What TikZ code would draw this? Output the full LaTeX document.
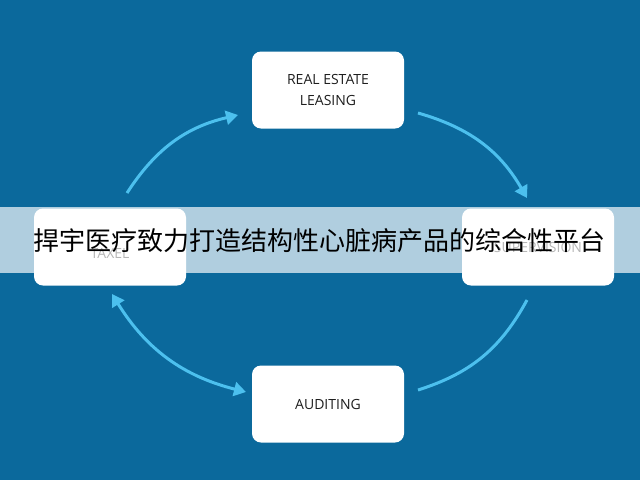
\documentclass[tikz,border=0pt]{standalone}
\usepackage{fontspec}
\setmainfont{Open Sans}
\newfontfamily\cjk{Noto Sans CJK SC}
\usetikzlibrary{arrows.meta}
\definecolor{bg}{HTML}{0B699C}
\definecolor{arr}{HTML}{4CC0EE}
\definecolor{txt}{HTML}{1E1E1E}
\begin{document}
\begin{tikzpicture}[x=1pt,y=-1pt,
  box/.style={fill=white,rounded corners=9pt,minimum width=152pt,minimum height=77pt,align=center,font=\fontsize{14}{21}\selectfont,text=txt},
  cyc/.style={draw=arr,line width=3pt,-{Triangle[length=12pt,width=14pt]}}]
\fill[bg] (0,0) rectangle (640,480);
\useasboundingbox (0,0) rectangle (640,480);
\node[box] (re) at (328,90) {REAL ESTATE\\LEASING};
\node[box] (au) at (328,404) {AUDITING};
\node[box] (tx) at (110,247) {\\[2pt]TAXEL};
\node[box] (su) at (538,247) {SUPERVISION};
\coordinate (a1) at (127,193); \coordinate (a2) at (238,115);
\draw[cyc] (a1) to[bend left=22] (a2);
\coordinate (b1) at (418,113); \coordinate (b2) at (527,198);
\draw[cyc] (b1) to[bend left=22] (b2);
\coordinate (c1) at (527,300); \coordinate (c2) at (418,390);
\draw[draw=arr,line width=3pt] (c1) to[bend left=22] (c2);
\coordinate (d1) at (112,294); \coordinate (d2) at (246,392);
\draw[cyc,{Triangle[length=12pt,width=14pt]}-{Triangle[length=12pt,width=14pt]}] (d1) to[bend right=22] (d2);
\fill[white,opacity=0.68] (0,207) rectangle (640,273);
\node (band) at (320,241) {\cjk\fontsize{26}{26}\selectfont 捍宇医疗致力打造结构性心脏病产品的综合性平台};
\end{tikzpicture}
\end{document}
